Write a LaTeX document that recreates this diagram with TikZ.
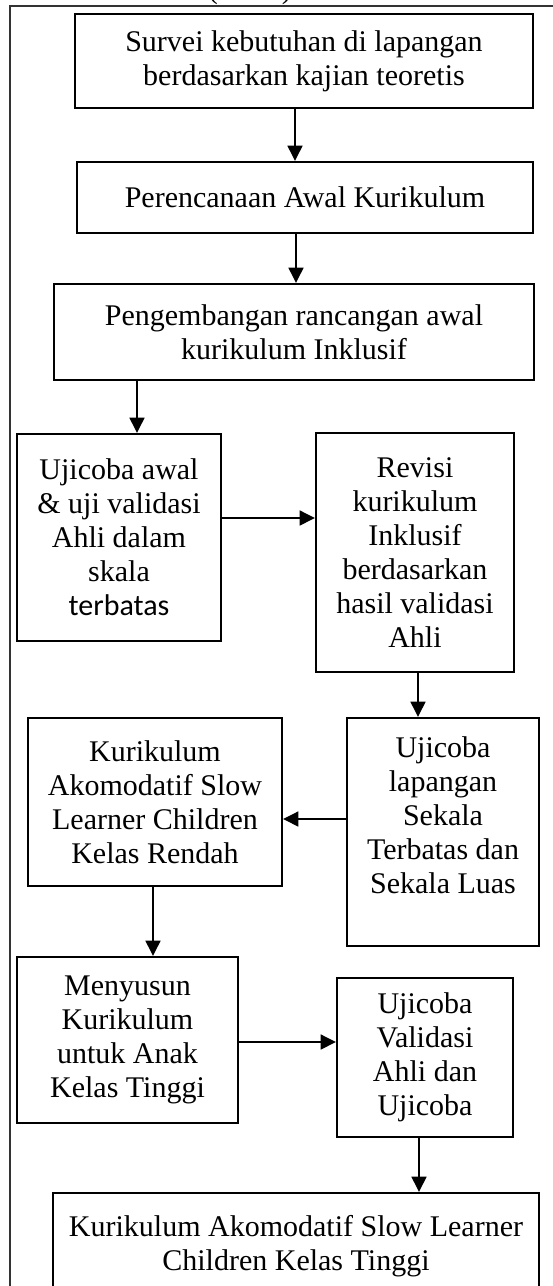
\documentclass[tikz,border=0pt]{standalone}
\usepackage{fontspec}
\setmainfont{Liberation Serif}
\newfontfamily\calib{Carlito}
\usetikzlibrary{arrows.meta}
\begin{document}
\begin{tikzpicture}[x=0.75pt,y=-0.75pt,
  box/.style={draw=black, line width=1.5pt, rectangle, inner sep=0pt, align=center,
    font=\fontsize{22.5}{25.5}\selectfont},
  arr/.style={line width=1.9pt, -{Triangle[length=11.5pt,width=11pt]}},
  frame/.style={line width=1.3pt, draw=black!80}]
\useasboundingbox (0,0) rectangle (553,1286);
\begin{scope}
\clip (0,0) rectangle (553,1286);
% outer frame
\coordinate (fb) at (10,1300);
\coordinate (fc) at (10,6);
\coordinate (fr) at (560,6);
\draw[frame] (fb) -- (fc) -- (fr);
% cut-off heading
\node[anchor=base, inner sep=0pt, font=\fontsize{22}{25.5}\selectfont] (head) at (250,-2) {(\hspace{48pt})};
% boxes
\node[box, minimum width=343.5pt, minimum height=70.5pt] (b1) at (304,61)
  {Survei kebutuhan di lapangan\\berdasarkan kajian teoretis};
\node[box, minimum width=342pt, minimum height=53.25pt] (b2) at (305,197.5)
  {Perencanaan Awal Kurikulum};
\node[box, minimum width=360pt, minimum height=72pt] (b3) at (294,332)
  {Pengembangan rancangan awal\\kurikulum Inklusif};
\node[box, minimum width=153pt, minimum height=155.25pt] (b4) at (119,537.5)
  {Ujicoba awal\\\& uji validasi\\Ahli dalam\\skala\\{\calib terbatas}};
\node[box, minimum width=148.5pt, minimum height=179.25pt] (b5) at (415,552.5)
  {Revisi\\kurikulum\\Inklusif\\berdasarkan\\hasil validasi\\Ahli};
\node[box, minimum width=144pt, minimum height=171pt] (b6) at (443,832)
  {Ujicoba\\lapangan\\Sekala\\Terbatas dan\\Sekala Luas\\\mbox{}};
\node[box, minimum width=190.5pt, minimum height=126pt] (b7) at (155,802)
  {Kurikulum\\Akomodatif Slow\\Learner Children\\Kelas Rendah};
\node[box, minimum width=165.75pt, minimum height=124.5pt] (b8) at (127.5,1040)
  {Menyusun\\Kurikulum\\untuk Anak\\Kelas Tinggi};
\node[box, minimum width=132pt, minimum height=119.25pt] (b9) at (425,1057.5)
  {Ujicoba\\Validasi\\Ahli dan\\Ujicoba};
\node[box, minimum width=364.5pt, minimum height=80.25pt] (b10) at (296,1246.5)
  {Kurikulum Akomodatif Slow Learner\\Children Kelas Tinggi};
% arrow guide coordinates
\coordinate (x1) at (295,0);
\coordinate (x2) at (296,0);
\coordinate (x3) at (137,0);
\coordinate (y4) at (0,518);
\coordinate (x5) at (418,0);
\coordinate (y6) at (0,819);
\coordinate (x7) at (153,0);
\coordinate (y8) at (0,1042);
\coordinate (x9) at (419,0);
% connectors
\draw[arr] (b1.south -| x1) -- (b2.north -| x1);
\draw[arr] (b2.south -| x2) -- (b3.north -| x2);
\draw[arr] (b3.south -| x3) -- (b4.north -| x3);
\draw[arr] (b4.east |- y4) -- (b5.west |- y4);
\draw[arr] (b5.south -| x5) -- (b6.north -| x5);
\draw[arr] (b6.west |- y6) -- (b7.east |- y6);
\draw[arr] (b7.south -| x7) -- (b8.north -| x7);
\draw[arr] (b8.east |- y8) -- (b9.west |- y8);
\draw[arr] (b9.south -| x9) -- (b10.north -| x9);
\end{scope}
\end{tikzpicture}
\end{document}
